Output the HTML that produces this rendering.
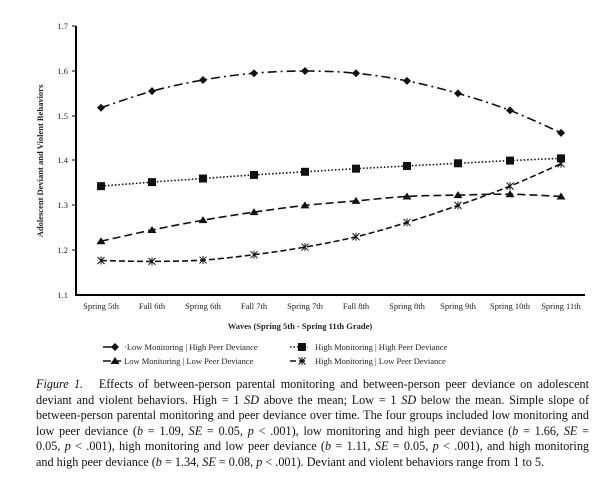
<!DOCTYPE html>
<html><head><meta charset="utf-8"><style>
body{margin:0;background:#fff;width:616px;height:492px;overflow:hidden;position:relative;font-family:"Liberation Serif",serif;}
svg{position:absolute;left:0;top:0}
.cap{position:absolute;left:36px;width:553px;top:377px;font-size:12.2px;line-height:15.6px;color:#111}
.cap div{text-align:justify;text-align-last:justify;white-space:nowrap;height:15.6px}
.cap div.last{text-align-last:left}
</style></head><body>
<svg id="s" width="616" height="380" font-family="Liberation Serif, serif" fill="#222">
<line x1="76" y1="26" x2="76" y2="296" stroke="#000" stroke-width="2"/>
<line x1="75" y1="295" x2="585" y2="295" stroke="#000" stroke-width="2"/>
<g stroke="#000" stroke-width="1">
<line x1="72" y1="26" x2="76" y2="26"/><line x1="72" y1="71" x2="76" y2="71"/><line x1="72" y1="116" x2="76" y2="116"/><line x1="72" y1="160" x2="76" y2="160"/><line x1="72" y1="205" x2="76" y2="205"/><line x1="72" y1="250" x2="76" y2="250"/>
</g>
<g font-size="8.5" text-anchor="end">
<text x="68" y="29">1.7</text><text x="68" y="74">1.6</text><text x="68" y="119">1.5</text><text x="68" y="163">1.4</text><text x="68" y="208">1.3</text><text x="68" y="253">1.2</text><text x="68" y="298">1.1</text>
</g>
<g font-size="8.5" text-anchor="middle">
<text x="101" y="309">Spring 5th</text><text x="152" y="309">Fall 6th</text><text x="203" y="309">Spring 6th</text><text x="254" y="309">Fall 7th</text><text x="305" y="309">Spring 7th</text><text x="356" y="309">Fall 8th</text><text x="407" y="309">Spring 8th</text><text x="458" y="309">Spring 9th</text><text x="510" y="309">Spring 10th</text><text x="561" y="309">Spring 11th</text>
</g>
<text x="300" y="329" font-size="8.5" font-weight="bold" text-anchor="middle">Waves (Spring 5th - Spring 11th Grade)</text>
<text transform="translate(43,161) rotate(-90)" font-size="8.5" font-weight="bold" text-anchor="middle">Adolescent Deviant and Violent Behaviors</text>
<g font-size="8.5">
<text x="124" y="350">·Low Monitoring | High Peer Deviance</text>
<text x="124" y="364">Low Monitoring | Low Peer Deviance</text>
<text x="315" y="350">High Monitoring | High Peer Deviance</text>
<text x="315" y="364">High Monitoring | Low Peer Deviance</text>
</g>
<g id="g"></g>
</svg>
<div class="cap">
<div><i>Figure 1.</i>&nbsp;&nbsp; Effects of between-person parental monitoring and between-person peer deviance on adolescent</div>
<div>deviant and violent behaviors. High = 1 <i>SD</i> above the mean; Low = 1 <i>SD</i> below the mean. Simple slope of</div>
<div>between-person parental monitoring and peer deviance over time. The four groups included low monitoring and</div>
<div>low peer deviance (<i>b</i> = 1.09, <i>SE</i> = 0.05, <i>p</i> &lt; .001), low monitoring and high peer deviance (<i>b</i> = 1.66, <i>SE</i> =</div>
<div>0.05, <i>p</i> &lt; .001), high monitoring and low peer deviance (<i>b</i> = 1.11, <i>SE</i> = 0.05, <i>p</i> &lt; .001), and high monitoring</div>
<div class="last">and high peer deviance (<i>b</i> = 1.34, <i>SE</i> = 0.08, <i>p</i> &lt; .001). Deviant and violent behaviors range from 1 to 5.</div>
</div>
<script>
var X=[101,152,203,254,305,356,407,458,510,561];
function Y(v){return 295-(v-1.1)*448;}
var S=[
{d:[1.518,1.555,1.58,1.595,1.60,1.595,1.578,1.55,1.512,1.462],da:"9,4,2,4",m:"dia"},
{d:[1.343,1.352,1.36,1.368,1.375,1.382,1.388,1.394,1.400,1.405],da:"1.5,2",m:"sq"},
{d:[1.22,1.245,1.267,1.285,1.30,1.31,1.32,1.323,1.325,1.32],da:"8,4",m:"tri"},
{d:[1.177,1.175,1.178,1.19,1.207,1.23,1.262,1.30,1.343,1.393],da:"6,3",m:"x"}];
var h="";
function mk(m,x,y){
 if(m=="dia")return '<path d="M'+x+','+(y-4)+'L'+(x+4)+','+y+'L'+x+','+(y+4)+'L'+(x-4)+','+y+'Z" fill="#111"/>';
 if(m=="sq")return '<rect x="'+(x-4)+'" y="'+(y-4)+'" width="8" height="8" fill="#111"/>';
 if(m=="tri")return '<path d="M'+x+','+(y-4)+'L'+(x+4.5)+','+(y+3)+'L'+(x-4.5)+','+(y+3)+'Z" fill="#111"/>';
 return '<path d="M'+(x-3.5)+','+(y-3.5)+'L'+(x+3.5)+','+(y+3.5)+'M'+(x+3.5)+','+(y-3.5)+'L'+(x-3.5)+','+(y+3.5)+'M'+x+','+(y-4)+'L'+x+','+(y+4)+'" stroke="#111" stroke-width="1"/>';
}
S.forEach(function(s){
 var P=s.d.map(function(v,i){return [X[i],Y(v)]});
 var d='M'+P[0][0]+','+P[0][1].toFixed(1);
 for(var i=0;i<P.length-1;i++){
  var p0=P[Math.max(i-1,0)],p1=P[i],p2=P[i+1],p3=P[Math.min(i+2,P.length-1)];
  var c1x=p1[0]+(p2[0]-p0[0])/6,c1y=p1[1]+(p2[1]-p0[1])/6;
  var c2x=p2[0]-(p3[0]-p1[0])/6,c2y=p2[1]-(p3[1]-p1[1])/6;
  d+='C'+c1x.toFixed(1)+','+c1y.toFixed(1)+' '+c2x.toFixed(1)+','+c2y.toFixed(1)+' '+p2[0]+','+p2[1].toFixed(1);
 }
 h+='<path d="'+d+'" fill="none" stroke="#111" stroke-width="1.6" stroke-dasharray="'+s.da+'"/>';
 s.d.forEach(function(v,i){h+=mk(s.m,X[i],Y(v));});
});
var L=[[103,347,0],[103,361,2],[290,347,1],[290,361,3]];
L.forEach(function(l){var s=S[l[2]];
 h+='<line x1="'+l[0]+'" y1="'+l[1]+'" x2="'+(l[0]+18)+'" y2="'+l[1]+'" stroke="#111" stroke-width="1.6" stroke-dasharray="'+s.da+'"/>'+mk(s.m,l[0]+12,l[1]);});
document.getElementById("g").innerHTML=h;
</script>
</body></html>
